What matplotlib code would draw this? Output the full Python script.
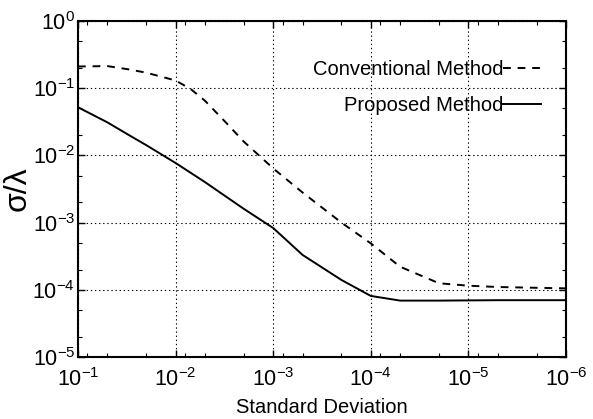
import matplotlib
matplotlib.use("Agg")
import matplotlib.pyplot as plt
from matplotlib.ticker import LogLocator, NullFormatter

plt.rcParams['font.family'] = ['Liberation Sans', 'DejaVu Sans']
plt.rcParams['mathtext.fontset'] = 'custom'
plt.rcParams['mathtext.rm'] = 'Liberation Sans'
plt.rcParams['mathtext.it'] = 'Liberation Sans:italic'

# standard deviation values (x) and sigma/lambda for both methods
std_dev = [1e-1, 5e-2, 3e-2, 2e-2, 1e-2, 7e-3, 5e-3, 3e-3, 2e-3, 1e-3,
           5e-4, 2e-4, 1e-4, 5e-5, 2e-5, 1e-5, 5e-6, 2e-6, 1e-6]
conventional = [0.21, 0.213, 0.19, 0.17, 0.13, 0.097, 0.065, 0.03, 0.016, 0.0064,
                0.0028, 0.001, 4.9e-4, 2.2e-4, 1.25e-4, 1.15e-4, 1.1e-4, 1.07e-4, 1.05e-4]
proposed = [0.052, 0.031, 0.020, 0.0142, 0.0077, 0.0055, 0.0040, 0.0024, 0.0016, 8.3e-4,
            3.3e-4, 1.4e-4, 8.1e-5, 6.9e-5, 6.9e-5, 6.95e-5, 7e-5, 7e-5, 7e-5]

fig = plt.figure(figsize=(5.93, 4.19), dpi=100)
ax = fig.add_axes([0.1315, 0.148, 0.823, 0.802])

ax.plot(std_dev, conventional, 'k--', lw=1.4, dashes=(4, 3.5), label='Conventional Method')
ax.plot(std_dev, proposed, 'k-', lw=1.4, label='Proposed Method')

ax.set_xscale('log')
ax.set_yscale('log')
ax.set_xlim(1e-1, 1e-6)
ax.set_ylim(1e-5, 1e0)
ax.xaxis.set_minor_locator(LogLocator(base=10, subs=(2, 5, 8)))
ax.yaxis.set_minor_locator(LogLocator(base=10, subs=(2, 5)))
ax.xaxis.set_minor_formatter(NullFormatter())
ax.yaxis.set_minor_formatter(NullFormatter())

ax.grid(True, which='major', color='k', ls=(0, (1.2, 2.5)), lw=0.8)
ax.tick_params(which='both', direction='in', top=True, right=True, labelsize=15.5)
ax.tick_params(which='major', length=5, width=1)
ax.tick_params(which='minor', length=3, width=0.8)
ax.tick_params(axis='x', pad=8)
ax.tick_params(axis='y', pad=2)
for s in ax.spines.values():
    s.set_linewidth(1.5)

ax.set_xlabel('Standard Deviation', fontsize=14.5, labelpad=5)
ax.set_ylabel('σ/λ', fontsize=23, labelpad=0)

ax.legend(loc='upper right', bbox_to_anchor=(0.97, 0.915), frameon=False,
          markerfirst=False, fontsize=14.5, handlelength=1.9, handletextpad=0.0,
          labelspacing=0.85, borderpad=0)

fig.savefig('out.png', dpi=100)
